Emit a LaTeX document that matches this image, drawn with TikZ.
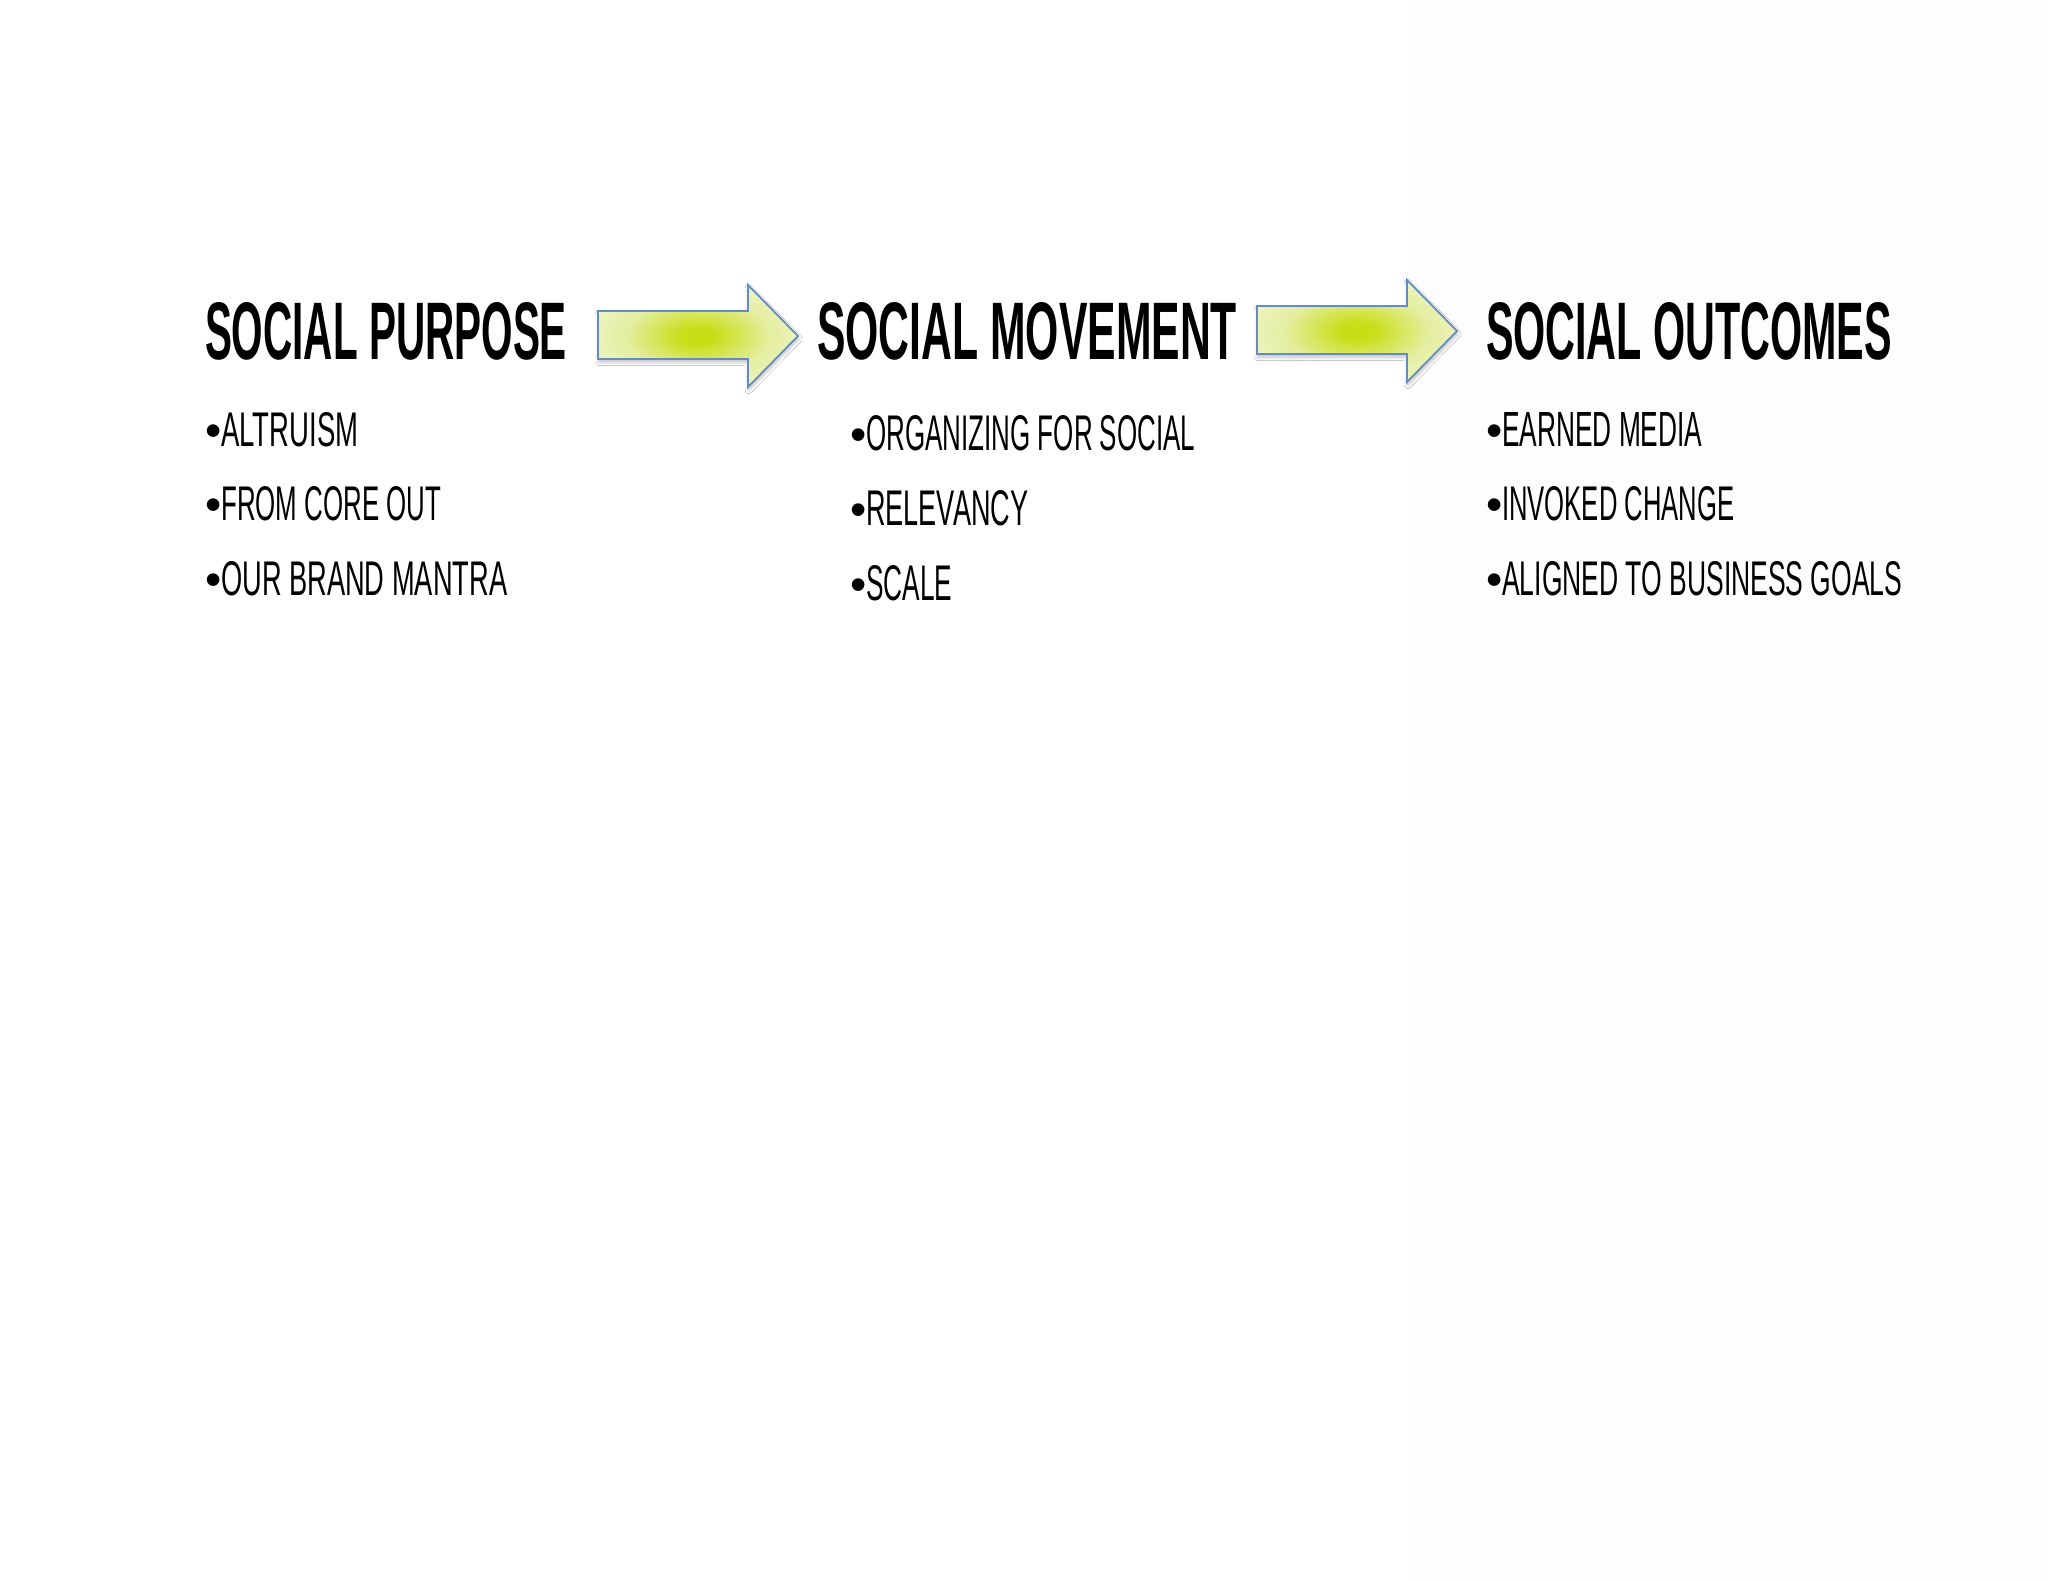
\documentclass[tikz,border=0pt]{standalone}
\usepackage{fontspec}
\setmainfont{Liberation Sans}
\usepackage{graphicx}
\usetikzlibrary{shadows.blur}
\newlength{\pxu}
\setlength{\pxu}{0.01cm}
\definecolor{gcore}{RGB}{200,222,22}
\definecolor{gmid}{RGB}{228,238,160}
\definecolor{gedge}{RGB}{247,250,230}
\definecolor{aline}{RGB}{100,140,192}
\pgfdeclareradialshading{glow}{\pgfpoint{0bp}{0bp}}{%
  color(0bp)=(gcore); color(4bp)=(gcore); color(18bp)=(gmid);
  color(38bp)=(gedge); color(50bp)=(gedge)}
\newcommand{\ttl}[2]{\resizebox{#1\pxu}{57\pxu}{\bfseries #2}}
\newcommand{\itm}[3]{{\fontsize{13.2pt}{14pt}\selectfont\textbullet}\resizebox{#1\pxu}{#2\pxu}{#3}}
\tikzset{
  txt/.style={inner sep=0pt, outer sep=0pt, anchor=base west, text=black},
  blockarrow/.style={shading=glow, draw=aline, line width=0.5pt, line join=miter,
    blur shadow={shadow xshift=0.2pt, shadow yshift=-0.9pt, shadow blur steps=6,
      shadow opacity=25, shadow blur radius=1pt}}
}
\begin{document}
\begin{tikzpicture}[x=0.01cm, y=-0.01cm]
\useasboundingbox (0,0) rectangle (2048,1582);
\fill[white] (0,0) rectangle (2048,1582);
\fill[black!0.6] (1407,0) rectangle (2048,1582);

% titles
\node[txt] (purpose)  at (205,360)  {\ttl{362}{SOCIAL PURPOSE}};
\node[txt] (movement) at (817,360)  {\ttl{420}{SOCIAL MOVEMENT}};
\node[txt] (outcomes) at (1486,360) {\ttl{406}{SOCIAL OUTCOMES}};

% block arrows
\path[blockarrow] (598,311) -- (748,311) -- (748,285) -- (798,336)
  -- (748,387) -- (748,359) -- (598,359) -- cycle;
\path[blockarrow] (1257,306) -- (1407,306) -- (1407,280) -- (1457,331)
  -- (1407,382) -- (1407,354) -- (1257,354) -- cycle;

% left column
\node[txt] (p1) at (205,446) {\itm{137}{34}{ALTRUISM}};
\node[txt] (p2) at (205,520) {\itm{220}{34}{FROM CORE OUT}};
\node[txt] (p3) at (205,595) {\itm{286}{34}{OUR BRAND MANTRA}};

% middle column
\node[txt] (m1) at (850,450) {\itm{329}{35}{ORGANIZING FOR SOCIAL}};
\node[txt] (m2) at (850,525) {\itm{162}{35}{RELEVANCY}};
\node[txt] (m3) at (850,600) {\itm{86}{35}{SCALE}};

% right column
\node[txt] (o1) at (1486,446) {\itm{200}{34}{EARNED MEDIA}};
\node[txt] (o2) at (1486,520) {\itm{232}{34}{INVOKED CHANGE}};
\node[txt] (o3) at (1486,595) {\itm{400}{34}{ALIGNED TO BUSINESS GOALS}};
\end{tikzpicture}
\end{document}
